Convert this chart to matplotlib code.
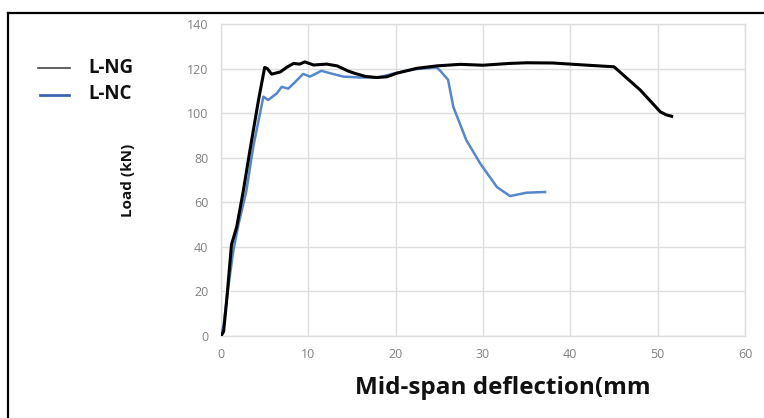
import matplotlib
matplotlib.use("Agg")
import matplotlib.pyplot as plt
from matplotlib.lines import Line2D

ng_x = [0, 0.3, 0.35, 0.65, 1.2, 1.8, 2.55, 3.3, 4.3, 5.0, 5.3, 5.8, 6.8, 7.5, 8.3, 9.0, 9.6, 10.6,
        12.1, 13.3, 14.5, 15.2, 16.5, 17.8, 19, 20.1, 22.4, 24.7, 27.4, 30, 33, 35, 38, 42, 45,
        46.5, 48, 50.3, 51, 51.6]
ng_y = [0, 2, 4, 16, 41, 49, 65, 83, 106, 120.5, 120, 117.5, 118.5, 120.5, 122.3, 122, 123, 121.6,
        122, 121.2, 119, 118, 116.5, 116, 116.3, 117.9, 120.1, 121.2, 121.9, 121.5, 122.3, 122.6,
        122.5, 121.5, 120.8, 115.6, 110.4, 100.6, 99.2, 98.6]

nc_x = [0, 0.3, 0.7, 1.4, 2.0, 2.9, 3.7, 4.85, 5.4, 6.4, 6.95, 7.7, 8.5, 9.4, 10.2, 11.5, 12.5, 14,
        15.9, 18, 20, 22.4, 24.7, 25.1, 26.0, 26.6, 28.1, 29.7, 31.6, 33.1, 35, 37.1]
nc_y = [0, 5, 18, 38, 50, 65, 85, 107.4, 105.9, 108.9, 111.8, 111, 114, 117.6, 116.4, 119, 117.9,
        116.4, 116, 116, 118, 119.8, 120.5, 119, 115, 102.8, 87.8, 77.3, 66.8, 62.8, 64.3, 64.6]

x_ticks = [0, 10, 20, 30, 40, 50, 60]
y_ticks = [0, 20, 40, 60, 80, 100, 120, 140]

W, H = 764, 418
fig = plt.figure(figsize=(W / 100, H / 100), dpi=100)
ax = fig.add_axes([221 / W, 1 - 336 / H, (745 - 221) / W, (336 - 24) / H])

blue = "#5686CC"
ax.plot(nc_x, nc_y, color=blue, lw=1.8, label="L-NC", zorder=3)
ax.plot(ng_x, ng_y, color="black", lw=2.2, label="L-NG", zorder=4)

ax.set_xlim(0, 60)
ax.set_ylim(0, 140)
ax.set_xticks(x_ticks)
ax.set_yticks(y_ticks)
ax.grid(True, color="#dedede", lw=1)
ax.set_axisbelow(True)
for s in ax.spines.values():
    s.set_color("#dedede")
    s.set_linewidth(1)
ax.tick_params(length=0, labelsize=9, labelcolor="#808080", pad=9)
for lab in ax.get_xticklabels() + ax.get_yticklabels():
    lab.set_family("Open Sans")

fig.text(503 / W, 1 - 388 / H, "Mid-span deflection(mm", ha="center", va="center",
         fontsize=17.5, fontweight="bold", family="Open Sans", color="#111111")
fig.text(128 / W, 1 - 180 / H, "Load (kN)", ha="center", va="center", rotation=90,
         fontsize=11, fontweight="bold", family="Open Sans", color="#111111")

# legend (outside axes, top-left)
fig.add_artist(Line2D([38 / W, 70 / W], [1 - 68 / H, 1 - 68 / H], color="#444444", lw=1.2))
fig.add_artist(Line2D([40 / W, 69 / W], [1 - 95 / H, 1 - 95 / H], color="#3d64b0", lw=2))
fig.text(88 / W, 1 - 68 / H, "L-NG", ha="left", va="center", fontsize=13.5, fontweight="bold",
         family="Open Sans", color="#111111")
fig.text(88 / W, 1 - 94 / H, "L-NC", ha="left", va="center", fontsize=13.5, fontweight="bold",
         family="Open Sans", color="#111111")

# outer frame (top and left)
fig.add_artist(Line2D([8 / W, 8 / W], [0, 1 - 13 / H], color="black", lw=1.6))
fig.add_artist(Line2D([8 / W, 1], [1 - 13 / H, 1 - 13 / H], color="black", lw=1.6))

fig.savefig("out.png", dpi=100)
